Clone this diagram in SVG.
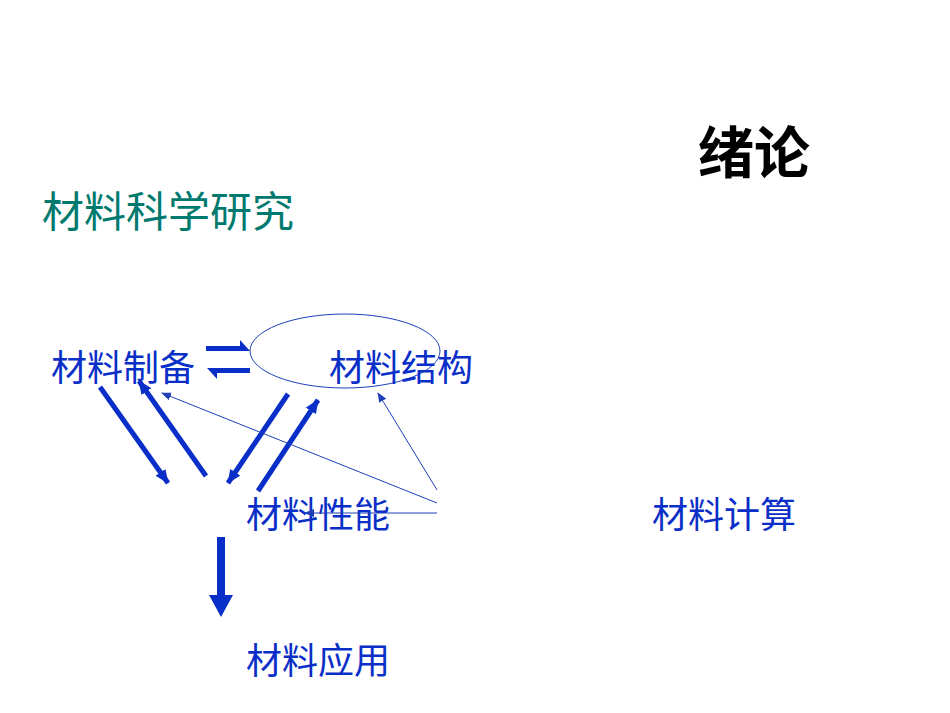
<svg xmlns="http://www.w3.org/2000/svg" width="950" height="713" viewBox="0 0 950 713">
<style>
text{font-family:"Liberation Sans","Noto Sans CJK SC",sans-serif}
.n{fill:#0a2fc8;font-size:36px}
.thick{stroke:#0a2fc8;stroke-width:5;fill:none}
.thin{stroke:#1f3fb8;stroke-width:1;fill:none}
</style>
<defs>
<marker id="h" markerWidth="14" markerHeight="12" refX="13" refY="6" orient="auto" markerUnits="userSpaceOnUse"><path d="M0,0L14,6L0,12z" fill="#0a2fc8"/></marker>
<marker id="t" markerWidth="10" markerHeight="8" refX="9" refY="4" orient="auto" markerUnits="userSpaceOnUse"><path d="M0,0L10,4L0,8z" fill="#1f3fb8"/></marker>
</defs>
<rect width="950" height="713" fill="#fff"/>
<text x="698" y="173" font-size="56" font-weight="bold" fill="#000">绪论</text>
<text x="42" y="227" font-size="42" fill="#007a6e">材料科学研究</text>
<g id="prep"><text class="n" x="51" y="381">材料制备</text></g>
<g id="struct"><ellipse cx="345" cy="351" rx="95" ry="37" fill="none" stroke="#1f3fb8" stroke-width="1"/><text class="n" x="329" y="381">材料结构</text></g>
<g id="perf"><text class="n" x="246" y="528">材料性能</text></g>
<g id="app"><text class="n" x="246" y="674">材料应用</text></g>
<g id="calc"><text class="n" x="652" y="528">材料计算</text></g>
<g id="connectors">
<path d="M206,346H240V340L250,351H206z" fill="#0a2fc8"/>
<path d="M250,368H207L217,379V373H250z" fill="#0a2fc8"/>
<line class="thick" x1="100" y1="387" x2="168" y2="483" marker-end="url(#h)"/>
<line class="thick" x1="206" y1="476" x2="139" y2="381" marker-end="url(#h)"/>
<line class="thick" x1="288" y1="394" x2="228" y2="483" marker-end="url(#h)"/>
<line class="thick" x1="258" y1="491" x2="318" y2="400" marker-end="url(#h)"/>
<line class="thin" x1="437" y1="503" x2="162" y2="393" marker-end="url(#t)"/>
<line class="thin" x1="437" y1="490" x2="378" y2="393" marker-end="url(#t)"/>
<line class="thin" x1="437" y1="513" x2="305" y2="513" marker-end="url(#t)"/>
<path d="M217,537H225V595H233L221,617L209,595H217z" fill="#0a2fc8"/>
</g>
</svg>
